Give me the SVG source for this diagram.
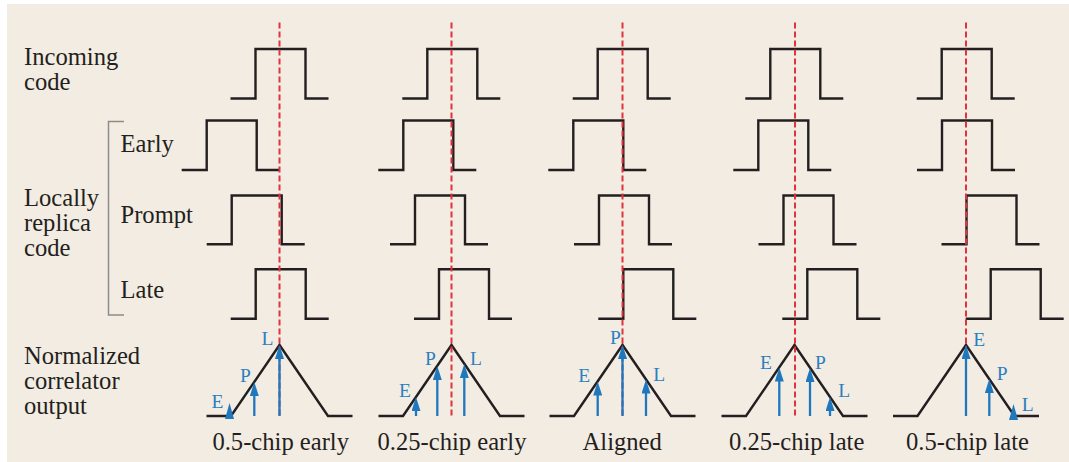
<svg xmlns="http://www.w3.org/2000/svg" width="1069" height="462" viewBox="0 0 1069 462">
<defs>
<style>
.t{font-family:'Liberation Serif','Times New Roman','DejaVu Serif',serif;font-size:24.6px;fill:#231f20}
.b{font-family:'Liberation Serif','Times New Roman','DejaVu Serif',serif;font-size:19.5px;fill:#2a7fc0}
.w{fill:none;stroke:#231f20;stroke-width:2.4;stroke-linejoin:miter}
.r{stroke:#e0323f;stroke-width:2;stroke-dasharray:6 3;fill:none}
.a{stroke:#1f78bd;stroke-width:2.3;fill:none;marker-end:url(#ah)}
.h{fill:#1f78bd}
.c{text-anchor:middle}
</style>
<marker id="ah" markerUnits="userSpaceOnUse" markerWidth="14" markerHeight="9" refX="7" refY="4.5" orient="auto" viewBox="0 0 14 9">
<path d="M0,0 L14,4.5 L0,9 z" fill="#1f78bd"/>
</marker>
</defs>
<rect x="0" y="0" width="1069" height="462" fill="#ffffff"/>
<rect x="7" y="4" width="1062" height="458" fill="#f3ece2"/>

<g id="row-labels">
<text class="t" x="24" y="65">Incoming</text>
<text class="t" x="24" y="90">code</text>
<text class="t" x="120.5" y="151.5">Early</text>
<text class="t" x="120.5" y="222.5">Prompt</text>
<text class="t" x="120.5" y="298">Late</text>
<text class="t" x="24" y="206">Locally</text>
<text class="t" x="24" y="231">replica</text>
<text class="t" x="24" y="256">code</text>
<text class="t" x="24" y="363.5">Normalized</text>
<text class="t" x="24" y="388.5">correlator</text>
<text class="t" x="24" y="413.5">output</text>
<path d="M124,121.5 H108.5 V315 H124" fill="none" stroke="#8c8c8c" stroke-width="1.5"/>
</g>

<g id="col1">
<path class="w" d="M230.5,98.5 H255.5 V49 H305.5 V98.5 H328.5"/>
<path class="w" d="M181.7,170 H206.7 V120.5 H256.7 V170 H279.7"/>
<path class="w" d="M206.7,244.3 H231.7 V195.5 H281.7 V244.3 H304.7"/>
<path class="w" d="M230.7,318.7 H255.7 V269.3 H305.7 V318.7 H328.7"/>
<path class="w" d="M206.5,416 H231 L279.5,345 L328,416 H352.5"/>
<line class="r" x1="279.5" y1="22.5" x2="279.5" y2="416"/>
<line class="a" x1="254.3" y1="416" x2="254.3" y2="389"/>
<line class="a" x1="279.5" y1="416" x2="279.5" y2="352"/>
<polygon class="h" points="229.5,403 225,419 234,419"/>
<text class="b" x="261.5" y="345">L</text>
<text class="b" x="240" y="381.5">P</text>
<text class="b" x="211.5" y="408">E</text>
<text class="t c" x="280.7" y="450">0.5-chip early</text>
</g>

<g id="col2">
<path class="w" d="M402.3,98.5 H427.3 V49 H477.3 V98.5 H500.3"/>
<path class="w" d="M378.3,170 H403.3 V120.5 H453.3 V170 H476.3"/>
<path class="w" d="M390,244.3 H415 V195.5 H465 V244.3 H488"/>
<path class="w" d="M414,318.7 H439 V269.3 H489 V318.7 H512"/>
<path class="w" d="M378.5,416 H403 L451.5,345 L500,416 H524.5"/>
<line class="r" x1="451.5" y1="22.5" x2="451.5" y2="416"/>
<line class="a" x1="416" y1="416" x2="416" y2="404"/>
<line class="a" x1="437.3" y1="416" x2="437.3" y2="373"/>
<line class="a" x1="464.3" y1="416" x2="464.3" y2="371"/>
<text class="b" x="425" y="365">P</text>
<text class="b" x="470" y="365">L</text>
<text class="b" x="399" y="397">E</text>
<text class="t c" x="452" y="450">0.25-chip early</text>
</g>

<g id="col3">
<path class="w" d="M572.7,98.5 H597.7 V49 H647.7 V98.5 H670.7"/>
<path class="w" d="M548.3,170 H573.3 V120.5 H623.3 V170 H646.3"/>
<path class="w" d="M574,244.3 H599 V195.5 H649 V244.3 H672"/>
<path class="w" d="M598.3,318.7 H623.3 V269.3 H673.3 V318.7 H696.3"/>
<path class="w" d="M549.5,416 H574 L622.5,345 L671,416 H695.5"/>
<line class="r" x1="622.5" y1="22.5" x2="622.5" y2="416"/>
<line class="a" x1="597.7" y1="416" x2="597.7" y2="388.5"/>
<line class="a" x1="622.5" y1="416" x2="622.5" y2="352"/>
<line class="a" x1="646" y1="416" x2="646" y2="386.5"/>
<text class="b" x="610" y="343.5">P</text>
<text class="b" x="578.3" y="381.5">E</text>
<text class="b" x="653.3" y="381">L</text>
<text class="t c" x="622.2" y="450">Aligned</text>
</g>

<g id="col4">
<path class="w" d="M745.3,98.5 H770.3 V49 H820.3 V98.5 H843.3"/>
<path class="w" d="M733.3,170 H758.3 V120.5 H808.3 V170 H831.3"/>
<path class="w" d="M758.5,244.3 H783.5 V195.5 H833.5 V244.3 H856.5"/>
<path class="w" d="M782.3,318.7 H807.3 V269.3 H857.3 V318.7 H880.3"/>
<path class="w" d="M721.5,416 H746 L794.5,345 L843,416 H867.5"/>
<line class="r" x1="795" y1="22.5" x2="795" y2="416"/>
<line class="a" x1="779.3" y1="416" x2="779.3" y2="374.5"/>
<line class="a" x1="810" y1="416" x2="810" y2="375"/>
<line class="a" x1="830" y1="416" x2="830" y2="404"/>
<text class="b" x="760" y="368.5">E</text>
<text class="b" x="815" y="368.5">P</text>
<text class="b" x="838.3" y="396.7">L</text>
<text class="t c" x="796.7" y="450">0.25-chip late</text>
</g>

<g id="col5">
<path class="w" d="M916.7,98.5 H941.7 V49 H991.7 V98.5 H1014.7"/>
<path class="w" d="M917,170 H942 V120.5 H992 V170 H1015"/>
<path class="w" d="M941.5,244.3 H966.5 V195.5 H1016.5 V244.3 H1039.5"/>
<path class="w" d="M965.7,318.7 H990.7 V269.3 H1040.7 V318.7 H1063.7"/>
<path class="w" d="M893,416 H917.5 L966,345 L1014.5,416 H1039"/>
<line class="r" x1="966" y1="22.5" x2="966" y2="416"/>
<line class="a" x1="966" y1="416" x2="966" y2="352"/>
<line class="a" x1="989.3" y1="416" x2="989.3" y2="386"/>
<polygon class="h" points="1013.5,404 1009,420 1018,420"/>
<text class="b" x="973.3" y="345.5">E</text>
<text class="b" x="996.7" y="380">P</text>
<text class="b" x="1021.7" y="411">L</text>
<text class="t c" x="967.5" y="450">0.5-chip late</text>
</g>
</svg>
